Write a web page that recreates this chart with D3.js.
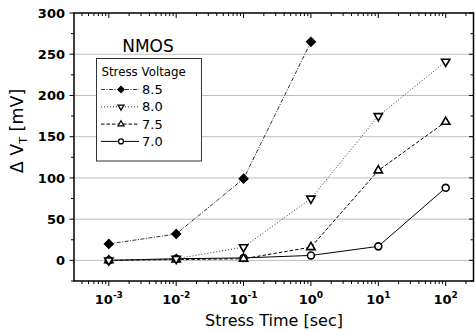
<!DOCTYPE html>
<html><head><meta charset="utf-8">
<script src="https://cdn.jsdelivr.net/npm/d3@7"></script>
<style>body{margin:0;background:#fff}svg{display:block}</style>
</head><body>
<svg id="c" width="475" height="331"></svg>
<script>
const times = [1e-3, 1e-2, 1e-1, 1e0, 1e1, 1e2];
const tickExps = [-3, -2, -1, 0, 1, 2];
const yTicks = [0, 50, 100, 150, 200, 250, 300];
const seriesNames = ["8.5", "8.0", "7.5", "7.0"];
const v85 = [20, 32, 99, 265];
const v80 = [0, 2, 16, 75, 175, 241];
const v75 = [0, 1, 2, 16, 109, 168];
const v70 = [0, 2, 3, 6, 17, 88];

const svg = d3.select("#c");
const L = 74, R = 473.5, T = 13, B = 281;
const x = d3.scaleLog().domain([Math.pow(10, -3.517), Math.pow(10, 2.413)]).range([L, R]);
const y = d3.scaleLinear().domain([-25, 300]).range([B, T]);

// gridlines
svg.append("g").selectAll("line").data(yTicks.filter(v => v < 300)).join("line")
  .attr("x1", L).attr("x2", R).attr("y1", d => y(d)).attr("y2", d => y(d))
  .attr("stroke", "#bdbdbd").attr("stroke-width", 1);

// minor x ticks
const [d0, d1] = x.domain();
const minorX = [];
for (let e = -4; e <= 2; e++) for (let m = 1; m <= 9; m++) {
  const v = m * Math.pow(10, e);
  if (v >= d0 && v <= d1) minorX.push({v, major: m === 1});
}
const minorY = d3.range(-25, 301, 25);

const ax = svg.append("g").attr("stroke", "#000");
ax.selectAll(".bt").data(minorX).join("line")
  .attr("x1", d => x(d.v)).attr("x2", d => x(d.v))
  .attr("y1", B).attr("y2", d => B + (d.major ? 5 : 3)).attr("stroke-width", 1);
ax.selectAll(".tt").data(minorX).join("line")
  .attr("x1", d => x(d.v)).attr("x2", d => x(d.v))
  .attr("y1", T).attr("y2", d => T + (d.major ? 5 : 3)).attr("stroke-width", 1);
ax.selectAll(".lt").data(minorY).join("line")
  .attr("y1", d => y(d)).attr("y2", d => y(d))
  .attr("x1", L).attr("x2", d => L - (d % 50 === 0 ? 4.5 : 3)).attr("stroke-width", 1);
ax.selectAll(".rt").data(minorY).join("line")
  .attr("y1", d => y(d)).attr("y2", d => y(d))
  .attr("x1", R).attr("x2", d => R - (d % 50 === 0 ? 4.5 : 3)).attr("stroke-width", 1);
svg.append("rect").attr("x", L).attr("y", T).attr("width", R - L).attr("height", B - T)
  .attr("fill", "none").attr("stroke", "#000").attr("stroke-width", 1.5);

// y tick labels
svg.append("g").selectAll("text").data(yTicks).join("text")
  .attr("x", 65).attr("y", d => y(d)).attr("dy", "0.36em")
  .attr("text-anchor", "end").attr("font-family", "DejaVu Sans").attr("font-weight", "bold")
  .attr("font-size", 13).text(d => d);

// x tick labels
const xl = svg.append("g").selectAll("text").data(tickExps).join("text")
  .attr("x", d => x(Math.pow(10, d))).attr("y", 304)
  .attr("text-anchor", "middle").attr("font-family", "DejaVu Sans").attr("font-weight", "bold")
  .attr("font-size", 13);
xl.append("tspan").text("10");
xl.append("tspan").attr("font-size", 9).attr("dy", -6).text(d => String(d));

// axis titles
svg.append("text").attr("x", 274).attr("y", 325.5).attr("text-anchor", "middle")
  .attr("font-family", "DejaVu Sans").attr("font-size", 16).text("Stress Time [sec]");
const yt = svg.append("text").attr("transform", "translate(23,131) rotate(-90)")
  .attr("text-anchor", "middle").attr("font-family", "DejaVu Sans").attr("font-size", 17.5);
yt.append("tspan").text("Δ V");
yt.append("tspan").attr("font-size", 11).attr("dy", 4).text("T");
yt.append("tspan").attr("dy", -4).text(" [mV]");

// series
const styles = {
  "8.5": {data: v85, dash: "4,1.5,1,1.5", color: "#333", sym: d3.symbolSquare, fill: "#000", rot: 45, size: 36},
  "8.0": {data: v80, dash: "1,2", color: "#333", sym: d3.symbolTriangle, fill: "#fff", rot: 180, size: 30},
  "7.5": {data: v75, dash: "3.5,2", color: "#000", sym: d3.symbolTriangle, fill: "#fff", rot: 0, size: 30},
  "7.0": {data: v70, dash: null, color: "#000", sym: d3.symbolCircle, fill: "#fff", rot: 0, size: 38}
};
const line = d3.line().x(d => x(d[0])).y(d => y(d[1]));
const order = ["7.0", "7.5", "8.0", "8.5"];
order.forEach(k => {
  const s = styles[k];
  const pts = s.data.map((v, i) => [times[i], v]);
  svg.append("path").attr("d", line(pts)).attr("fill", "none")
    .attr("stroke", s.color).attr("stroke-width", 1).attr("stroke-dasharray", s.dash);
});
order.forEach(k => {
  const s = styles[k];
  const pts = s.data.map((v, i) => [times[i], v]);
  svg.append("g").selectAll("path").data(pts).join("path")
    .attr("d", d3.symbol().type(s.sym).size(s.size))
    .attr("transform", d => `translate(${x(d[0])},${y(d[1])}) rotate(${s.rot})`)
    .attr("fill", s.fill).attr("stroke", "#000").attr("stroke-width", 1.6);
});

// NMOS label
svg.append("text").attr("x", 148).attr("y", 51.5).attr("text-anchor", "middle")
  .attr("font-family", "DejaVu Sans").attr("font-size", 17).text("NMOS");

// legend
const lg = svg.append("g");
lg.append("rect").attr("x", 96.5).attr("y", 58.5).attr("width", 105).attr("height", 102.5)
  .attr("fill", "#fff").attr("stroke", "#333").attr("stroke-width", 1);
lg.append("text").attr("x", 101.5).attr("y", 76).attr("font-family", "DejaVu Sans")
  .attr("font-size", 11.8).text("Stress Voltage");
seriesNames.forEach((k, i) => {
  const s = styles[k];
  const yy = 94 + i * 17.3;
  lg.append("line").attr("x1", 101).attr("x2", 139).attr("y1", yy - 4.5).attr("y2", yy - 4.5)
    .attr("stroke", s.color).attr("stroke-width", 1).attr("stroke-dasharray", s.dash);
  lg.append("path").attr("d", d3.symbol().type(s.sym).size(s.size * 0.5))
    .attr("transform", `translate(121,${yy - 4.5}) rotate(${s.rot})`)
    .attr("fill", s.fill).attr("stroke", "#000").attr("stroke-width", 1.3);
  lg.append("text").attr("x", 142).attr("y", yy).attr("font-family", "DejaVu Sans")
    .attr("font-size", 13).text(k);
});
</script>
</body></html>
